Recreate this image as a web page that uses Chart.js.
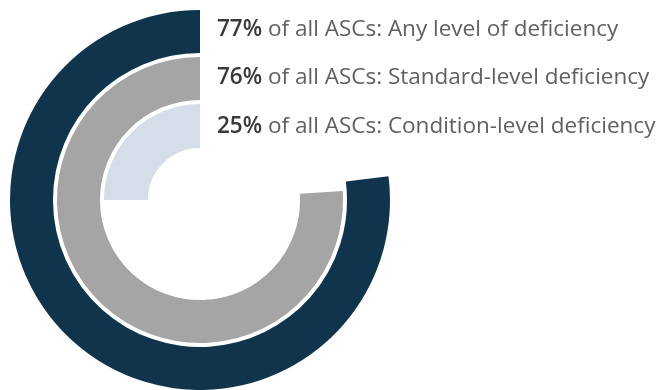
<!DOCTYPE html>
<html>
<head>
<meta charset="utf-8">
<script src="https://cdn.jsdelivr.net/npm/chart.js@4.4.1/dist/chart.umd.min.js"></script>
<style>
html,body{margin:0;padding:0;background:#fff;}
#wrap{width:657px;height:390px;position:relative;}
</style>
</head>
<body>
<div id="wrap"><canvas id="c" width="657" height="390"></canvas></div>
<script>
const categories = ["Any level of deficiency", "Standard-level deficiency", "Condition-level deficiency"];
const percents = [77, 76, 25];
const labelPrefix = " of all ASCs: ";
const colors = ["#10344b", "#a5a5a5", "#d5dde8"];

const ringWeights = [43, 43, 44];
const gapWeight = 4;

const datasets = [];
percents.forEach((p, i) => {
  if (i > 0) {
    datasets.push({ data: [1], backgroundColor: ['rgba(0,0,0,0)'], weight: gapWeight, borderWidth: 0 });
  }
  datasets.push({
    label: categories[i],
    data: [100 - p, p],
    backgroundColor: ['rgba(0,0,0,0)', colors[i]],
    weight: ringWeights[i],
    borderWidth: 0
  });
});

const labelPlugin = {
  id: 'ringLabels',
  afterDraw(chart) {
    const ctx = chart.ctx;
    const x0 = 217;
    const baselines = [36, 84, 133];
    ctx.save();
    ctx.textBaseline = 'alphabetic';
    percents.forEach((p, i) => {
      const pct = p + '%';
      ctx.font = '600 22.5px "Open Sans", sans-serif';
      ctx.fillStyle = '#3a3a3a';
      ctx.fillText(pct, x0, baselines[i]);
      const w = ctx.measureText(pct).width;
      ctx.font = '400 22.5px "Open Sans", sans-serif';
      ctx.fillStyle = '#606060';
      ctx.fillText(labelPrefix + categories[i], x0 + w, baselines[i]);
    });
    ctx.restore();
  }
};

new Chart(document.getElementById('c'), {
  type: 'doughnut',
  data: { labels: ['rest', 'value'], datasets },
  options: {
    responsive: false,
    animation: false,
    cutout: '27.4%',
    rotation: 0,
    layout: { padding: { left: 10, top: 10, right: 267, bottom: 0 } },
    plugins: { legend: { display: false }, tooltip: { enabled: false } },
    elements: { arc: { borderWidth: 0, hoverOffset: 0 } }
  },
  plugins: [labelPlugin]
});
</script>
</body>
</html>
